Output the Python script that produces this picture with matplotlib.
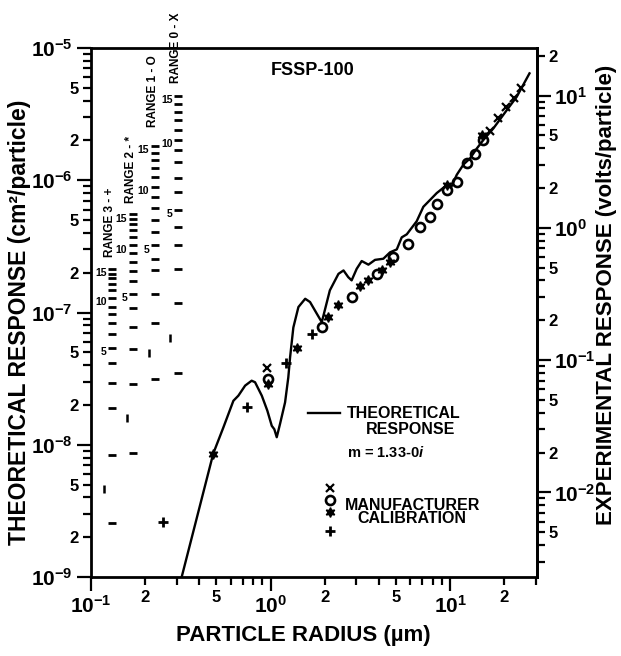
import math

import matplotlib
matplotlib.use("Agg")
import matplotlib.pyplot as plt
import matplotlib.transforms as mtransforms
from matplotlib.ticker import FixedLocator, FuncFormatter

plt.rcParams["font.family"] = ["Liberation Sans", "DejaVu Sans"]
plt.rcParams["font.weight"] = "bold"
plt.rcParams["mathtext.fontset"] = "custom"
plt.rcParams["mathtext.bf"] = "Liberation Sans:bold"
plt.rcParams["mathtext.rm"] = "Liberation Sans:bold"
plt.rcParams["mathtext.it"] = "Liberation Sans:italic:bold"

# theoretical response curve, m = 1.33 - 0i  (radius um, cm^2/particle)
theory_r = [0.32, 0.48, 0.546, 0.621, 0.662, 0.722, 0.785, 0.82, 0.894, 0.96,
            1.016, 1.05, 1.083, 1.13, 1.205, 1.256, 1.285, 1.34, 1.43, 1.56,
            1.66, 1.81, 1.93, 2.14, 2.39, 2.55, 2.71, 2.83, 3.02, 3.22, 3.51,
            3.82, 4.25, 4.63, 5.05, 5.38, 5.74, 6.52, 7.1, 7.74, 8.43, 9.59,
            10.2, 10.9, 11.9, 12.9, 14.1, 15.3, 17.4, 20.7, 23.5, 27.7]
theory_resp = [1.0e-9, 8.6e-9, 1.35e-8, 2.15e-8, 2.35e-8, 2.8e-8, 3.05e-8,
               2.97e-8, 2.35e-8, 1.81e-8, 1.39e-8, 1.31e-8, 1.14e-8, 1.44e-8,
               2.09e-8, 3.23e-8, 4.58e-8, 7.7e-8, 1.1e-7, 1.27e-7, 1.2e-7,
               9.8e-8, 8.45e-8, 1.47e-7, 1.96e-7, 2.08e-7, 1.85e-7, 1.75e-7,
               2.14e-7, 2.45e-7, 2.3e-7, 2.5e-7, 2.55e-7, 2.85e-7, 3.0e-7,
               3.7e-7, 3.9e-7, 4.9e-7, 6.3e-7, 7.1e-7, 8.0e-7, 9.2e-7,
               9.0e-7, 1.1e-6, 1.32e-6, 1.46e-6, 1.74e-6, 2.01e-6, 2.46e-6,
               3.39e-6, 4.27e-6, 6.43e-6]

# manufacturer calibration points, one series per range
r0_r = [0.96, 16.7, 18.5, 20.5, 22.6, 24.8]
r0_resp = [3.81e-8, 2.35e-6, 2.95e-6, 3.55e-6, 4.2e-6, 4.95e-6]
r1_r = [0.964, 1.93, 2.83, 3.91, 4.83, 5.86, 6.81, 7.74, 8.43, 9.59, 10.9,
        12.4, 13.8, 15.3]
r1_resp = [3.15e-8, 7.75e-8, 1.31e-7, 1.96e-7, 2.62e-7, 3.31e-7, 4.43e-7,
           5.27e-7, 6.65e-7, 8.4e-7, 9.7e-7, 1.34e-6, 1.59e-6, 2.01e-6]
r2_r = [0.479, 0.968, 1.41, 2.10, 2.39, 3.15, 3.51, 4.16, 4.63, 9.56, 15.0]
r2_resp = [8.55e-9, 2.9e-8, 5.43e-8, 9.2e-8, 1.13e-7, 1.6e-7, 1.75e-7,
           2.08e-7, 2.4e-7, 9.2e-7, 2.19e-6]
r3_r = [0.252, 0.739, 1.22, 1.70]
r3_resp = [2.6e-9, 1.94e-8, 4.18e-8, 6.93e-8]

# channel boundaries of each range (16 per range), cm^2/particle
range3_bounds = [2.56e-9, 8.39e-9, 1.91e-8, 2.95e-8, 4.18e-8, 5.43e-8, 6.93e-8,
                 8.26e-8, 9.82e-8, 1.11e-7, 1.28e-7, 1.47e-7, 1.63e-7, 1.81e-7,
                 1.97e-7, 2.15e-7]
range2_bounds = [8.69e-9, 2.90e-8, 5.33e-8, 7.83e-8, 1.09e-7, 1.39e-7, 1.72e-7,
                 2.05e-7, 2.39e-7, 2.80e-7, 3.22e-7, 3.70e-7, 4.18e-7, 4.64e-7,
                 5.07e-7, 5.52e-7]
range1_bounds = [3.16e-8, 8.26e-8, 1.39e-7, 2.08e-7, 2.56e-7, 3.22e-7, 4.04e-7,
                 4.98e-7, 6.14e-7, 7.43e-7, 8.85e-7, 1.05e-6, 1.23e-6, 1.42e-6,
                 1.60e-6, 1.81e-6]
range0_bounds = [3.51e-8, 1.17e-7, 2.15e-7, 3.22e-7, 4.41e-7, 5.93e-7, 8.11e-7,
                 1.04e-6, 1.37e-6, 1.69e-6, 2.01e-6, 2.39e-6, 2.85e-6, 3.28e-6,
                 3.77e-6, 4.33e-6]
range_first = [4.64e-9, 1.60e-8, 4.98e-8, 6.47e-8]  # vertical marks, ranges 3..0
range_names = ["RANGE 3 - +", "RANGE 2 - *", "RANGE 1 - O", "RANGE 0 - X"]
channel_labels = [5, 10, 15]

VOLT_PER_CM2 = 10 ** 6.36  # experimental / theoretical scale

X_LIM = (0.1, 30.5)
Y_LIM = (1e-9, 1e-5)

fig = plt.figure(figsize=(6.21, 6.56), dpi=100)
ax = fig.add_axes([91 / 621, 79 / 656, 446 / 621, 529 / 656])
ax.set_xscale("log")
ax.set_yscale("log")
ax.set_xlim(*X_LIM)
ax.set_ylim(*Y_LIM)

for s in ax.spines.values():
    s.set_linewidth(2)


def major_fmt(v, _):
    return r"$\mathbf{10^{%d}}$" % round(math.log10(v))


def minor_fmt(v, _):
    m = v / 10 ** math.floor(math.log10(v) + 1e-9)
    if abs(m - 2) < 0.05:
        return "2"
    if abs(m - 5) < 0.05:
        return "5"
    return ""


def log_ticks(lo, hi):
    e0, e1 = math.floor(math.log10(lo)) - 1, math.ceil(math.log10(hi)) + 1
    major = [10.0 ** e for e in range(e0, e1 + 1)]
    minor = [k * 10.0 ** e for e in range(e0, e1 + 1) for k in range(2, 10)]
    keep = lambda v: lo * 0.999 <= v <= hi * 1.001
    return [v for v in major if keep(v)], [v for v in minor if keep(v)]


def setup_axis(axis, lo, hi):
    major, minor = log_ticks(lo, hi)
    axis.set_major_locator(FixedLocator(major))
    axis.set_minor_locator(FixedLocator(minor))
    axis.set_major_formatter(FuncFormatter(major_fmt))
    axis.set_minor_formatter(FuncFormatter(minor_fmt))


setup_axis(ax.xaxis, *X_LIM)
setup_axis(ax.yaxis, *Y_LIM)
ax.tick_params(which="both", direction="out", width=1.6, top=False, right=False)
ax.tick_params(which="major", length=10, labelsize=15, pad=3)
ax.tick_params(which="minor", length=6, labelsize=12, pad=3)

sec = ax.secondary_yaxis("right", functions=(lambda y: y * VOLT_PER_CM2,
                                             lambda v: v / VOLT_PER_CM2))
setup_axis(sec.yaxis, Y_LIM[0] * VOLT_PER_CM2, Y_LIM[1] * VOLT_PER_CM2)
sec.spines["right"].set_linewidth(2)
sec.tick_params(which="both", direction="out", width=1.6)
sec.tick_params(which="major", length=10, labelsize=15, pad=2)
sec.tick_params(which="minor", length=6, labelsize=12, pad=2)

# theory and calibration
ax.plot(theory_r, theory_resp, color="black", lw=1.7, zorder=3)
ax.plot(r0_r, r0_resp, ls="none", marker="x", ms=6, mew=1.6, color="black", zorder=4)
ax.plot(r1_r, r1_resp, ls="none", marker="o", ms=6.5, mew=1.9, mfc="none",
        color="black", zorder=4)
ax.plot(r2_r, r2_resp, ls="none", marker=(6, 1, 0), ms=7, color="black", zorder=4)
ax.plot(r3_r, r3_resp, ls="none", marker="+", ms=7, mew=2, color="black", zorder=4)

# channel boundary columns
blend = mtransforms.blended_transform_factory(ax.transAxes, ax.transData)
col_x = [0.047, 0.094, 0.143, 0.195]
first_x = [0.029, 0.081, 0.130, 0.177]
name_y = [0.605, 0.707, 0.851, 0.934]
bounds = [range3_bounds, range2_bounds, range1_bounds, range0_bounds]
for cx, fx, ny, b, v1, name in zip(col_x, first_x, name_y, bounds, range_first,
                                   range_names):
    ax.plot([cx] * len(b), b, ls="none", marker="_", ms=5.5, mew=2,
            color="black", transform=blend, clip_on=False)
    ax.plot([fx], [v1], ls="none", marker="|", ms=6, mew=1.8, color="black",
            transform=blend)
    for ch in channel_labels:
        ax.annotate(str(ch), xy=(cx, b[ch]), xycoords=blend, xytext=(-4, -3),
                    textcoords="offset points", ha="right", va="center",
                    fontsize=7.5)
    ax.text(cx - 0.004, ny, name, transform=ax.transAxes, rotation=90,
            ha="center", va="bottom", fontsize=8.5, clip_on=False)

ax.text(0.498, 0.958, "FSSP-100", transform=ax.transAxes, ha="center",
        va="center", fontsize=13)

# legend drawn by hand
ax.plot([0.487, 0.558], [0.310, 0.310], color="black", lw=1.7,
        transform=ax.transAxes)
ax.text(0.574, 0.310, "THEORETICAL", transform=ax.transAxes, ha="left",
        va="center", fontsize=11.5)
ax.text(0.717, 0.278, "RESPONSE", transform=ax.transAxes, ha="center",
        va="center", fontsize=11.5)
ax.text(0.574, 0.236, "m = 1.33-0$\\mathit{i}$", transform=ax.transAxes,
        ha="left", va="center", fontsize=10.5)
ax.plot([0.536], [0.168], marker="x", ms=6, mew=1.6, color="black",
        transform=ax.transAxes)
ax.plot([0.536], [0.146], marker="o", ms=6.5, mew=1.9, mfc="none",
        color="black", transform=ax.transAxes)
ax.plot([0.536], [0.123], marker=(6, 1, 0), ms=7, color="black",
        transform=ax.transAxes)
ax.plot([0.536], [0.087], marker="+", ms=7, mew=2, color="black",
        transform=ax.transAxes)
ax.text(0.570, 0.136, "MANUFACTURER", transform=ax.transAxes, ha="left",
        va="center", fontsize=11.5)
ax.text(0.720, 0.110, "CALIBRATION", transform=ax.transAxes, ha="center",
        va="center", fontsize=11.5)

fig.text(0.031, 0.508, "THEORETICAL RESPONSE (cm²/particle)", rotation=90,
         ha="center", va="center", fontsize=16.5)
fig.text(0.977, 0.550, "EXPERIMENTAL RESPONSE (volts/particle)", rotation=90,
         ha="center", va="center", fontsize=16)
fig.text(0.488, 0.032, "PARTICLE RADIUS (µm)", ha="center", va="center",
         fontsize=16)

fig.savefig("out.png", dpi=100)
